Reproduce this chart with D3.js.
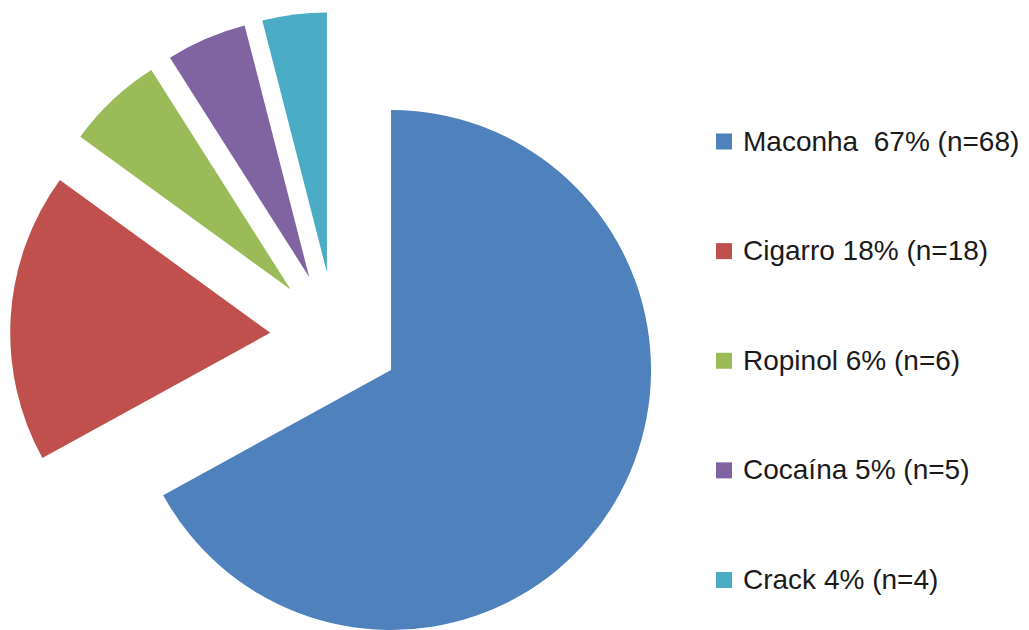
<!DOCTYPE html>
<html>
<head>
<meta charset="utf-8">
<script src="https://cdn.jsdelivr.net/npm/d3@7"></script>
<style>
  html, body { margin: 0; padding: 0; background: #fff; }
  svg { display: block; }
  .legend text { font-family: "Liberation Sans", Arial, sans-serif; font-size: 28px; fill: #1a1a1a; white-space: pre; }
</style>
</head>
<body>
<div id="chart"></div>
<script>
// Dados do gráfico
const categories = ['Maconha', 'Cigarro', 'Ropinol', 'Cocaína', 'Crack'];
const percents = [67, 18, 6, 5, 4];
const counts = [68, 18, 6, 5, 4];
const colors = ['#4F81BD', '#C0504D', '#9BBB59', '#8064A2', '#4BACC6'];

const width = 1029;
const height = 630;

// tamanho e posição da pizza
const cx = 335.1, cy = 336.9;
const radius = 260;
const explode = 65;

const svg = d3.select('#chart')
    .append('svg')
    .attr('width', width)
    .attr('height', height);

const color = d3.scaleOrdinal().domain(categories).range(colors);

const data = categories.map((c, i) => ({
    name: c,
    value: percents[i],
    // "Maconha" tem dois espaços no original
    label: `${c}${i === 0 ? '  ' : ' '}${percents[i]}% (n=${counts[i]})`
}));

const pie = d3.pie()
    .value(d => d.value)
    .sort(null);

const arc = d3.arc()
    .innerRadius(0)
    .outerRadius(radius);

svg.append('g')
    .attr('transform', `translate(${cx},${cy})`)
    .selectAll('path')
    .data(pie(data))
    .enter().append('path')
    .attr('d', arc)
    .attr('fill', d => color(d.data.name))
    .attr('transform', d => {
        // desloca cada fatia ao longo da bissetriz
        const a = (d.startAngle + d.endAngle) / 2;
        return `translate(${Math.sin(a) * explode},${-Math.cos(a) * explode})`;
    });

// Legenda
const legendY = d3.scalePoint()
    .domain(categories)
    .range([150.5, 589]);

const legend = svg.append('g')
    .attr('class', 'legend')
    .selectAll('g')
    .data(data)
    .enter().append('g')
    .attr('transform', d => `translate(716,${legendY(d.name)})`);

legend.append('rect')
    .attr('x', 0)
    .attr('y', -17)
    .attr('width', 16)
    .attr('height', 16)
    .attr('fill', d => color(d.name));

legend.append('text')
    .attr('x', 27)
    .attr('y', 0)
    .text(d => d.label);
</script>
</body>
</html>
